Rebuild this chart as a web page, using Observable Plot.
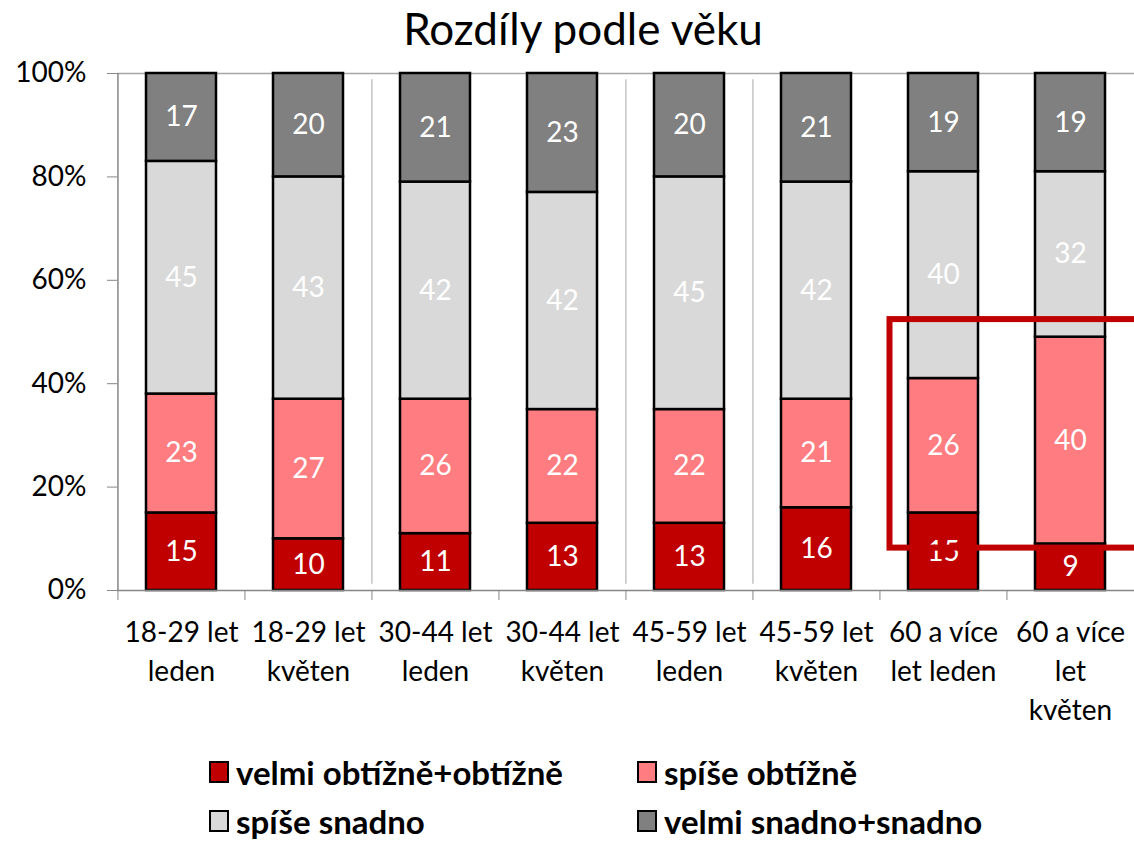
<!DOCTYPE html>
<html><head><meta charset="utf-8">
<script src="https://cdn.jsdelivr.net/npm/d3@7"></script>
<script src="https://cdn.jsdelivr.net/npm/@observablehq/plot@0.6"></script>
<style>
body{margin:0;background:#fff;font-family:Lato,"Open Sans",sans-serif;}
#wrap{position:relative;width:1134px;height:842px;background:#fff}
#title{position:absolute;left:0;top:0;width:1166px;text-align:center;font-size:44px;line-height:56px;color:#000}
#chart{position:absolute;left:0;top:40px}
.lg{position:absolute;display:flex;align-items:center;font-weight:bold;font-size:33px;line-height:40px;color:#000;white-space:nowrap;height:40px}
.sw{width:20px;height:22px;box-sizing:border-box;border:2px solid #000;margin-right:7px}
</style></head><body>
<div id="wrap"><div id="chart"></div><div id="title">Rozdíly podle věku</div><div id="legend"></div></div>
<script>
const categories = ["18-29 let leden","18-29 let květen","30-44 let leden","30-44 let květen","45-59 let leden","45-59 let květen","60 a více let leden","60 a více let květen"];
const tickLabels = ["18-29 let\nleden","18-29 let\nkvěten","30-44 let\nleden","30-44 let\nkvěten","45-59 let\nleden","45-59 let\nkvěten","60 a více\nlet leden","60 a více\nlet\nkvěten"];
const series = ["velmi obtížně+obtížně","spíše obtížně","spíše snadno","velmi snadno+snadno"];
const colors = ["#C00000","#FF7C80","#D9D9D9","#808080"];
const velmiObtizne = [15,10,11,13,13,16,15,9];
const spiseObtizne = [23,27,26,22,22,21,26,40];
const spiseSnadno = [45,43,42,42,45,42,40,32];
const velmiSnadno = [17,20,21,23,20,21,19,19];
const yTicks = [0,20,40,60,80,100];
const separatorsBefore = ["30-44 let leden","45-59 let leden","45-59 let květen"];
const highlight = {from: "60 a více let leden", top: 52.4, bottom: 8.2};

const seriesValues = [velmiObtizne, spiseObtizne, spiseSnadno, velmiSnadno];
const data = [];
categories.forEach((c, i) => series.forEach((s, j) => data.push({cat: c, series: s, value: seriesValues[j][i]})));

const W = 1134, ML = 117, MR = 0;
const step = (W - ML - MR) / categories.length;

const chart = Plot.plot({
  width: W, height: 696,
  marginLeft: ML, marginRight: MR, marginTop: 33, marginBottom: 146,
  style: {fontFamily: "Lato, 'Open Sans', sans-serif", background: "transparent", color: "#000"},
  x: {domain: categories, paddingInner: 0.45, paddingOuter: 0.225, label: null},
  y: {domain: [0, 100], label: null},
  color: {domain: series, range: colors},
  marks: [
    Plot.ruleY([100], {stroke: "#a6a6a6", strokeWidth: 1.5}),
    Plot.ruleX(separatorsBefore, {x: d => d, y1: 1.2, y2: 98.8, dx: -step / 2, stroke: "#a6a6a6", strokeWidth: 1}),
    Plot.barY(data, {x: "cat", y: "value", fill: "series", stroke: "#000", strokeWidth: 2.5}),
    Plot.text(data, Plot.stackY({x: "cat", y: "value", z: "series", text: d => String(d.value), fill: "#fff", fontSize: 28})),
    Plot.ruleX([categories[0]], {x: d => d, y1: 0, y2: 100, dx: -step / 2, stroke: "#868686", strokeWidth: 1.5}),
    Plot.ruleY([0], {stroke: "#868686", strokeWidth: 1.5}),
    Plot.axisY({ticks: yTicks, tickFormat: d => d + "%", tickSize: 10, tickPadding: 21, fontSize: 28, stroke: "#868686", label: null}),
    Plot.axisX({ticks: categories, tickSize: 10, tickFormat: () => "", dx: -step / 2, stroke: "#868686", label: null}),
    Plot.axisX({ticks: categories, tickSize: 0, tickPadding: 24, fontSize: 28, lineHeight: 1.39, tickFormat: d => tickLabels[categories.indexOf(d)], label: null})
  ]
});
document.getElementById("chart").appendChild(chart);

// highlight rectangle from scales
const sx = chart.scale("x"), sy = chart.scale("y");
const left = sx.apply(highlight.from) - (sx.step - sx.bandwidth) / 2 + 10;
const yTop = sy.apply(highlight.top), yBot = sy.apply(highlight.bottom);
d3.select(chart).append("rect")
  .attr("x", left).attr("y", yTop)
  .attr("width", W - left + 30).attr("height", yBot - yTop)
  .attr("fill", "none").attr("stroke", "#C00000").attr("stroke-width", 6);

// legend
const legendPos = [[209, 752], [637, 752], [209, 801], [637, 801]];
const lg = d3.select("#legend");
series.forEach((s, i) => {
  const item = lg.append("div").attr("class", "lg").style("left", legendPos[i][0] + "px").style("top", legendPos[i][1] + "px");
  item.append("div").attr("class", "sw").style("background", colors[i]);
  item.append("span").text(s);
});
</script></body></html>
